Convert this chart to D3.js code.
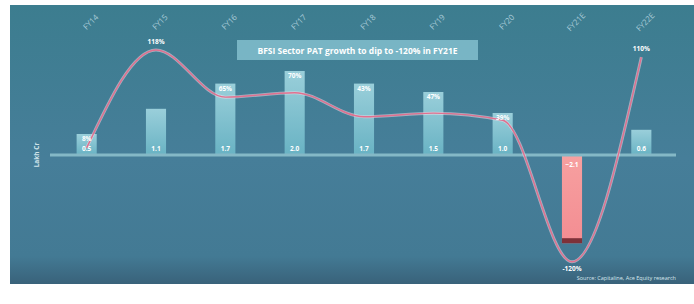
<!DOCTYPE html>
<html>
<head>
<meta charset="utf-8">
<script src="https://cdn.jsdelivr.net/npm/d3@7"></script>
<style>
  body { margin: 0; background: #fff; }
  svg { display: block; font-family: "Open Sans", "DejaVu Sans", sans-serif; }
</style>
</head>
<body>
<div id="chart"></div>
<script>
// chart data
const years = ["FY14", "FY15", "FY16", "FY17", "FY18", "FY19", "FY20", "FY21E", "FY22E"];
const patValues = [0.5, 1.1, 1.7, 2.0, 1.7, 1.5, 1.0, -2.1, 0.6];   // bars, Rs lakh cr
const patGrowth = [8, 118, 65, 70, 43, 47, 39, -120, 110];          // line, %
const titleText = "BFSI Sector PAT growth to dip to -120% in FY21E";
const sourceText = "Source: Capitaline, Ace Equity research";

const width = 694, height = 304;

let svg = d3.select("#chart").append("svg")
    .attr("width", width)
    .attr("height", height);

let defs = svg.append("defs");

// background gradient
let bg = defs.append("linearGradient").attr("id", "bg")
    .attr("x1", 0).attr("y1", 0).attr("x2", 0).attr("y2", 1);
bg.append("stop").attr("offset", "0%").attr("stop-color", "#3c7d8f");
bg.append("stop").attr("offset", "55%").attr("stop-color", "#467e99");
bg.append("stop").attr("offset", "90%").attr("stop-color", "#437a94");
bg.append("stop").attr("offset", "100%").attr("stop-color", "#39627a");

let barGrad = defs.append("linearGradient").attr("id", "barGrad")
    .attr("x1", 0).attr("y1", 0).attr("x2", 0).attr("y2", 1);
barGrad.append("stop").attr("offset", "0%").attr("stop-color", "#a9dde6");
barGrad.append("stop").attr("offset", "100%").attr("stop-color", "#6fbccb");

let negGrad = defs.append("linearGradient").attr("id", "negGrad")
    .attr("x1", 0).attr("y1", 0).attr("x2", 0).attr("y2", 1);
negGrad.append("stop").attr("offset", "0%").attr("stop-color", "#f7a0a0");
negGrad.append("stop").attr("offset", "100%").attr("stop-color", "#f38d92");

svg.append("rect")
    .attr("x", 10).attr("y", 5)
    .attr("width", 684).attr("height", 279)
    .attr("fill", "url(#bg)");

// scales
let x = d3.scaleBand()
    .domain(years)
    .range([52, 676])
    .paddingInner(0.71)
    .paddingOuter(0.355);

let yBar = d3.scaleLinear().domain([-2.5, 2.5]).range([260, 50]);
let yLine = d3.scaleLinear().domain([-150, 150]).range([288.5, 21.5]);

let cx = d => x(d) + x.bandwidth() / 2;

// category labels on top, rotated
svg.append("g").selectAll("text")
    .data(years)
    .join("text")
    .attr("transform", d => `translate(${cx(d) + 6}, 24) rotate(-45)`)
    .attr("text-anchor", "middle")
    .attr("font-size", 8)
    .attr("fill", "#a9cbd8")
    .text(d => d);

// title box
let titleG = svg.append("g").attr("transform", "translate(237, 40)");
titleG.append("rect")
    .attr("width", 241).attr("height", 20)
    .attr("fill", "#8cc8d6").attr("opacity", 0.75);
titleG.append("text")
    .attr("x", 120.5).attr("y", 13.5)
    .attr("text-anchor", "middle")
    .attr("font-size", 8.5)
    .attr("font-weight", "bold")
    .attr("fill", "#ffffff")
    .text(titleText);

// bars
let bars = svg.append("g").selectAll("g")
    .data(years.map((d, i) => ({ year: d, v: patValues[i] })))
    .join("g");

bars.append("rect")
    .attr("x", d => x(d.year))
    .attr("y", d => yBar(Math.max(0, d.v)))
    .attr("width", x.bandwidth())
    .attr("height", d => Math.abs(yBar(d.v) - yBar(0)))
    .attr("fill", d => d.v < 0 ? "url(#negGrad)" : "url(#barGrad)")
    .attr("opacity", d => d.v < 0 ? 1 : 0.85);

// dark cap at bottom of the negative bar
bars.filter(d => d.v < 0).append("rect")
    .attr("x", d => x(d.year))
    .attr("y", d => yBar(d.v) - 5)
    .attr("width", x.bandwidth())
    .attr("height", 5)
    .attr("fill", "#7d3139");

// bar value labels
bars.append("text")
    .attr("x", d => cx(d.year))
    .attr("y", d => d.v < 0 ? yBar(0) + 12 : yBar(0) - 4)
    .attr("text-anchor", "middle")
    .attr("font-size", 6.5)
    .attr("font-weight", "bold")
    .attr("fill", "#ffffff")
    .text(d => d3.format(".1f")(d.v));

// zero line
svg.append("line")
    .attr("x1", 50).attr("x2", 676)
    .attr("y1", yBar(0)).attr("y2", yBar(0))
    .attr("stroke", "#84b8c6")
    .attr("stroke-width", 3);

// y axis label
svg.append("text")
    .attr("transform", `translate(39, ${yBar(0)}) rotate(-90)`)
    .attr("text-anchor", "middle")
    .attr("font-size", 6.5)
    .attr("font-weight", "bold")
    .attr("fill", "#cfe3ea")
    .text("Lakh Cr");

// growth line
let pts = years.map((d, i) => [cx(d), yLine(patGrowth[i])]);
let lineGen = d3.line().curve(d3.curveMonotoneX);

svg.append("path")
    .attr("d", lineGen(pts))
    .attr("fill", "none")
    .attr("stroke", "#f3dde6")
    .attr("stroke-width", 3)
    .attr("opacity", 0.55);
svg.append("path")
    .attr("d", lineGen(pts))
    .attr("fill", "none")
    .attr("stroke", "#e0708f")
    .attr("stroke-width", 1.4);

// growth labels
svg.append("g").selectAll("text")
    .data(years.map((d, i) => ({ year: d, g: patGrowth[i], v: patValues[i] })))
    .join("text")
    .attr("x", d => cx(d.year))
    .attr("y", d => {
        if (d.g < 0) return yLine(d.g) + 9;
        if (d.g > 100) return yLine(d.g) - 6;
        return yBar(d.v) + 7;
    })
    .attr("text-anchor", "middle")
    .attr("font-size", 6.5)
    .attr("font-weight", "bold")
    .attr("fill", "#ffffff")
    .text(d => d.g + "%");

// source note
svg.append("text")
    .attr("x", 676).attr("y", 280)
    .attr("text-anchor", "end")
    .attr("font-size", 5.5)
    .attr("fill", "#d7e8ee")
    .text(sourceText);
</script>
</body>
</html>
